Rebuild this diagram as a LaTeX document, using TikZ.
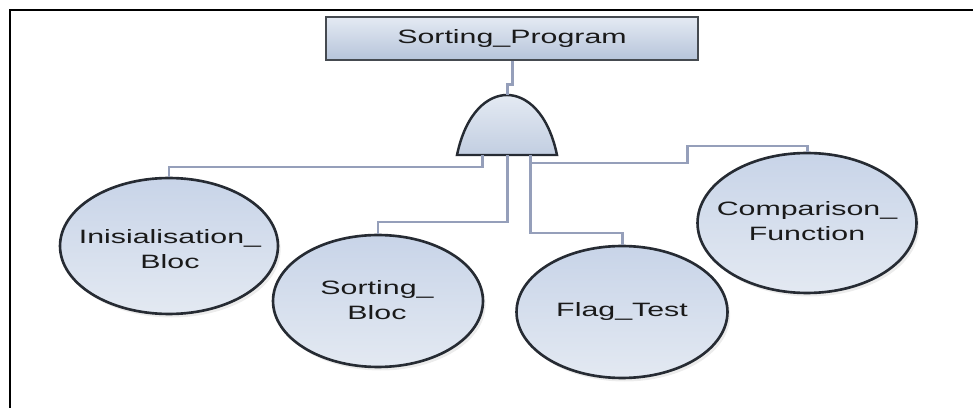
\documentclass[tikz,border=0pt]{standalone}
\usepackage{fontspec}
\newfontfamily\diagfont[FakeStretch=1.57]{Liberation Sans}
\usepackage{tikz}
\usetikzlibrary{shapes.geometric,shadows,positioning}

\definecolor{edgedark}{HTML}{262B33}
\definecolor{boxedge}{HTML}{454A50}
\definecolor{linkblue}{HTML}{959FBA}
\definecolor{leaftop}{HTML}{C8D4E8}
\definecolor{leafbot}{HTML}{E3E9F2}
\definecolor{boxtop}{HTML}{E4EAF3}
\definecolor{boxbot}{HTML}{B6C4DA}
\definecolor{gatebot}{HTML}{C2CEE1}
\definecolor{textdark}{HTML}{1A1A1A}

\tikzset{
  frame/.style={draw=black,line width=1.1pt},
  topbox/.style={rectangle,draw=boxedge,line width=1.6pt,top color=boxtop,bottom color=boxbot,
    minimum width=7.44cm,minimum height=0.86cm,inner sep=0pt,text=textdark},
  gate/.style={draw=edgedark,line width=1.4pt,top color=boxtop,bottom color=gatebot},
  leaf/.style={ellipse,draw=edgedark,line width=1.5pt,top color=leaftop,bottom color=leafbot,
    inner sep=0pt,drop shadow={shadow xshift=1.5pt,shadow yshift=-2pt,opacity=0.15}},
  caption/.style={align=center,text=textdark,inner sep=0pt},
  link/.style={draw=linkblue,line width=1.7pt},
}

\begin{document}
\begin{tikzpicture}[x=0.02cm,y=-0.02cm,font=\diagfont\fontsize{11}{13.8}\selectfont]
	\useasboundingbox (0,0) rectangle (973,408);
	\draw[frame] (10,408) -- (10,10) -- (973,10);

	% top event
	\node[topbox] (prog) at (512,38.5) {Sorting\_Program};

	% gate
	\draw[gate] (457,155) .. controls (466,112) and (488,95) .. (507,95)
		.. controls (526,95) and (548,112) .. (557,155) -- cycle;
	\coordinate (g-top) at (507,95);
	\coordinate (g-l) at (482,155);
	\coordinate (g-m) at (507,155);
	\coordinate (g-r) at (530,155);

	% basic events
	\node[leaf,minimum width=4.36cm,minimum height=2.72cm] (init) at (169,246) {};
	\node[leaf,minimum width=4.2cm,minimum height=2.64cm] (sort) at (378,301) {};
	\node[leaf,minimum width=4.22cm,minimum height=2.64cm] (flag) at (622,312) {};
	\node[leaf,minimum width=4.38cm,minimum height=2.8cm] (comp) at (807,223) {};
	\node[caption] (init-t) at (170,249) {Inisialisation\_\\Bloc};
	\node[caption] (sort-t) at (377,300) {Sorting\_\\Bloc};
	\node[caption] (flag-t) at (622,312) {Flag\_Test};
	\node[caption] (comp-t) at (807,221) {Comparison\_\\Function};

	% connectors
	\draw[link] (prog.south) -- ++(0,23) -| (g-top);
	\draw[link] (g-l) -- (g-l |- 0,167) -| (init.north);
	\draw[link] (g-m) -- (g-m |- 0,222) -| (sort.north);
	\draw[link] (g-r) -- (g-r |- 0,233) -| (flag.north);
	\draw[link] (g-r |- 0,163) -| (687,146) -| (comp.north);
\end{tikzpicture}
\end{document}
